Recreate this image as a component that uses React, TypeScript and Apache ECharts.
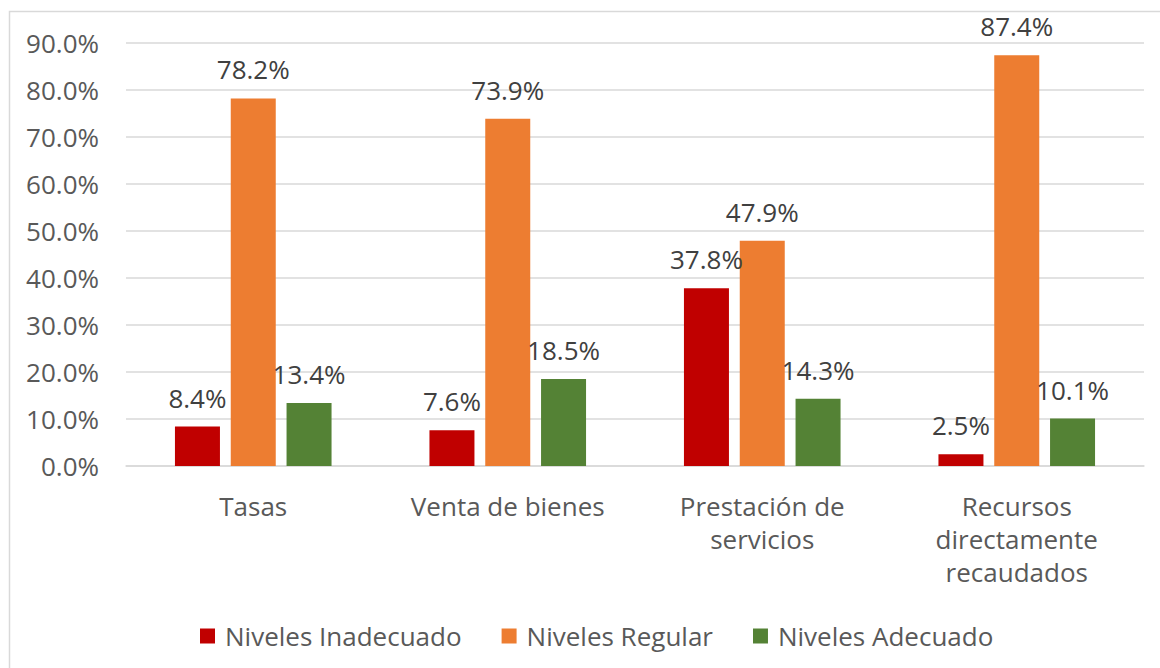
import React, { useEffect, useRef } from "react";
import * as echarts from "echarts";

const categories = ["Tasas", "Venta de bienes", "Prestación de\nservicios", "Recursos\ndirectamente\nrecaudados"];
const seriesNames = ["Niveles Inadecuado", "Niveles Regular", "Niveles Adecuado"];
const inadecuado = [8.4, 7.6, 37.8, 2.5];
const regular = [78.2, 73.9, 47.9, 87.4];
const adecuado = [13.4, 18.5, 14.3, 10.1];
const colors = ["#C00000", "#ED7D31", "#548235"];

const FONT = "Open Sans";
const FS = 26;

export default function App() {
  const ref = useRef<HTMLDivElement>(null);
  useEffect(() => {
    if (!ref.current) return;
    const chart = echarts.init(ref.current, null, { renderer: "svg" });
    const mk = (name: string, data: number[], color: string) => ({
      name,
      type: "bar",
      data,
      barWidth: 45,
      barGap: "24%",
      itemStyle: { color },
      label: {
        show: true,
        position: "top",
        distance: 16,
        formatter: (p: any) => p.value.toFixed(1) + "%",
        color: "#404040",
        fontSize: FS,
        fontFamily: FONT,
      },
    });
    chart.setOption({
      animation: false,
      backgroundColor: "#ffffff",
      textStyle: { fontFamily: FONT },
      graphic: [
        {
          type: "rect",
          shape: { x: 9.5, y: 11.5, width: 1170, height: 680 },
          style: { fill: "none", stroke: "#d9d9d9", lineWidth: 1.5 },
          silent: true,
        },
      ],
      grid: { left: 126, right: 16, top: 43, bottom: 202, containLabel: false },
      legend: {
        bottom: 14,
        left: 195,
        itemWidth: 15,
        itemHeight: 15,
        itemGap: 40,
        icon: "rect",
        textStyle: { color: "#595959", fontSize: FS, fontFamily: FONT, padding: [0, 0, 0, 5] },
        data: seriesNames,
      },
      xAxis: {
        type: "category",
        data: categories,
        axisLine: { show: true, lineStyle: { color: "#d9d9d9", width: 1.5 } },
        axisTick: { show: false },
        axisLabel: {
          color: "#595959",
          fontSize: FS,
          fontFamily: FONT,
          lineHeight: 33,
          margin: 23,
          interval: 0,
        },
      },
      yAxis: {
        type: "value",
        min: 0,
        max: 90,
        interval: 10,
        axisLine: { show: false },
        axisTick: { show: false },
        splitLine: { lineStyle: { color: "#d9d9d9", width: 1.5 } },
        axisLabel: {
          color: "#595959",
          fontSize: FS,
          fontFamily: FONT,
          margin: 27,
          formatter: (v: number) => v.toFixed(1) + "%",
        },
      },
      series: [
        mk(seriesNames[0], inadecuado, colors[0]),
        mk(seriesNames[1], regular, colors[1]),
        mk(seriesNames[2], adecuado, colors[2]),
      ],
    });
    return () => chart.dispose();
  }, []);
  return (
    <div
      ref={ref}
      style={{ position: "absolute", left: 0, top: 0, width: 1160, height: 668 }}
    />
  );
}
